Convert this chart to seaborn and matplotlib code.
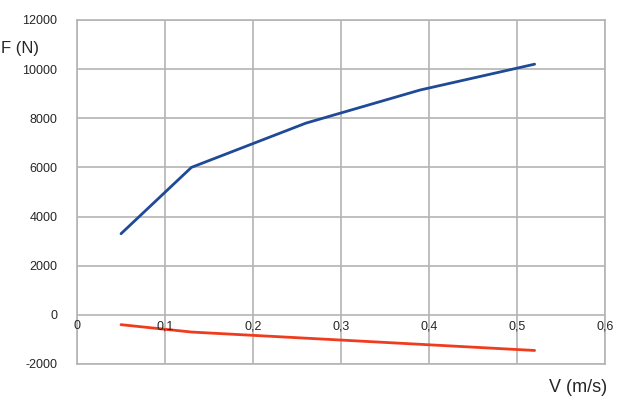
import pandas as pd
import seaborn as sns
import matplotlib.pyplot as plt

v = [0.05, 0.13, 0.26, 0.39, 0.52]
f_upper = [3300, 6000, 7800, 9150, 10200]
f_lower = [-400, -700, -950, -1200, -1450]
x_ticks = [0, 0.1, 0.2, 0.3, 0.4, 0.5, 0.6]
y_ticks = [-2000, 0, 2000, 4000, 6000, 8000, 10000, 12000]

df = pd.DataFrame({
    "V": v + v,
    "F": f_upper + f_lower,
    "serie": ["upper"] * len(v) + ["lower"] * len(v),
})

sns.set_style("white")
plt.rcParams["font.family"] = ["Liberation Sans", "DejaVu Sans"]
plt.rcParams["axes.unicode_minus"] = False

fig = plt.figure(figsize=(6.24, 4.07), dpi=100)
ax = fig.add_axes([0.1234, 0.1057, 0.8462, 0.8453])

sns.lineplot(data=df, x="V", y="F", hue="serie",
             palette={"upper": "#1f4a96", "lower": "#f03c1e"},
             linewidth=2.0, legend=False, ax=ax)

ax.set_xlim(0, 0.6)
ax.set_ylim(-2000, 12000)
ax.set_xticks(x_ticks)
ax.set_yticks(y_ticks)
ax.set_xticklabels([])
ax.tick_params(axis="x", length=0)
ax.tick_params(axis="y", length=5, width=1, color="#b0b0b0", labelsize=9, pad=9)
ax.grid(True, color="#b4b4b4", linewidth=1.2)
for s in ax.spines.values():
    s.set_color("#b4b4b4")
    s.set_linewidth(1.2)

# x labels sit just under the zero line, with decimal commas
for t in x_ticks:
    ax.text(t, -230, f"{t:g}".replace(".", ","), ha="center", va="top", fontsize=9)

ax.set_xlabel("")
ax.set_ylabel("")
fig.text(0.002, 0.882, "F (N)", fontsize=12, ha="left", va="center")
fig.text(0.973, 0.049, "V (m/s)", fontsize=13, ha="right", va="center")

fig.savefig("out.png", dpi=100)
